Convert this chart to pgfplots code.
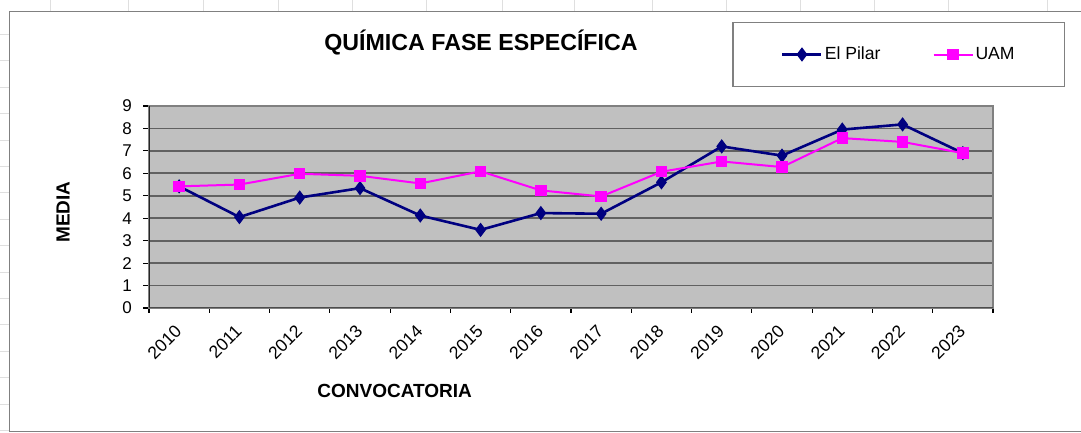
\documentclass[border=0pt]{standalone}
\usepackage{fontspec}
\setmainfont{Liberation Sans}
\usepackage{pgfplots}
\pgfplotsset{compat=1.18}
\definecolor{silver}{HTML}{C0C0C0}
\definecolor{pilar}{HTML}{000080}
\definecolor{uam}{HTML}{FF00FF}

\pgfplotstableread{
x year pilar uam
0 2010 5.42 5.42
1 2011 4.05 5.50
2 2012 4.92 5.98
3 2013 5.34 5.89
4 2014 4.12 5.55
5 2015 3.48 6.09
6 2016 4.23 5.24
7 2017 4.20 4.97
8 2018 5.60 6.07
9 2019 7.20 6.53
10 2020 6.79 6.28
11 2021 7.95 7.57
12 2022 8.18 7.40
13 2023 6.90 6.90
}\datos

\begin{document}
\begin{tikzpicture}
% page = 1081x433 px at 0.5pt per px
\path[use as bounding box] (0,0) rectangle (540.5pt,216.5pt);
\begin{scope}
\clip (0,0) rectangle (540.5pt,216.5pt);
% faint spreadsheet cells behind the chart
\foreach \gx in {25,64,101.5,139,176,213,251,287,326,363,400,437,474,523.5}
  \draw[gray!25] (\gx pt,211pt) -- (\gx pt,216.5pt);
\foreach \gy in {199.25,186.05,172.85,159.65,146.45,133.25,120.05,106.85,93.65,80.45,67.25,54.05,40.85,27.65,14.45,1.25}
  \draw[gray!25] (0pt,\gy pt) -- (4.5pt,\gy pt);
\draw[gray, line width=0.7pt, fill=white] (4.6pt,0.6pt) rectangle (545pt,210.8pt);
\end{scope}

\node[font=\bfseries\fontsize{11.6}{14}\selectfont, anchor=base] at (240.5pt,191pt) {QUÍMICA FASE ESPECÍFICA};

\begin{axis}[
  at={(74.5pt,62.5pt)}, anchor=south west,
  scale only axis, width=422pt, height=101pt,
  xmin=-0.5, xmax=13.5, ymin=0, ymax=9,
  xtick={0,...,13},
  xticklabels={2010,2011,2012,2013,2014,2015,2016,2017,2018,2019,2020,2021,2022,2023},
  minor xtick={-0.5,0.5,...,13.5},
  major x tick style={draw=none},
  minor tick length=2.5pt, major tick length=3pt,
  tick align=outside, tick style={black, line width=0.6pt},
  ytick={0,...,9},
  xtick pos=bottom, ytick pos=left,
  ymajorgrids, grid style={black!62, line width=0.9pt},
  axis background/.style={fill=silver},
  axis line style={gray, line width=0.9pt},
  /pgf/number format/assume math mode=true,
  yticklabel style={font=\fontsize{8.5}{10}\selectfont, xshift=-2pt},
  xticklabel style={font=\fontsize{8.8}{10}\selectfont, xshift=-2.6pt, rotate=45, anchor=north east},
  xlabel={CONVOCATORIA},
  xlabel style={font=\bfseries\fontsize{9.5}{11}\selectfont, at={(axis description cs:0.291,-0.4455)}, anchor=base},
  ylabel={MEDIA},
  ylabel style={font=\bfseries\fontsize{9.5}{11}\selectfont, at={(axis description cs:-0.1019,0.475)}, anchor=center, rotate=0},
  legend columns=2,
  legend style={at={(0.8885,1.255)}, anchor=center, draw=gray, line width=0.8pt,
    inner xsep=24pt, inner ysep=11pt,
    font=\fontsize{8.8}{10}\selectfont,
    nodes={inner sep=1pt},
    /tikz/every even column/.append style={column sep=25pt}},
  legend image code/.code={\draw[mark repeat=2,mark phase=2] plot coordinates {(0pt,0pt) (9.75pt,0pt) (19.5pt,0pt)};},
]
\addplot[pilar, line width=1.3pt, mark=diamond*, mark size=3.2pt, mark options={solid, line width=0.5pt}] table[x=x, y=pilar] {\datos};
\addlegendentry{El Pilar}
\addplot[uam, line width=1pt, mark=square*, mark size=2.6pt, mark options={solid, line width=0.5pt}] table[x=x, y=uam] {\datos};
\addlegendentry{UAM}
\draw[black!85, line width=0.9pt] (rel axis cs:0,0) -- (rel axis cs:0,1);
\draw[black!70, line width=0.9pt] (rel axis cs:0,0) -- (rel axis cs:1,0);
\end{axis}
\end{tikzpicture}
\end{document}
